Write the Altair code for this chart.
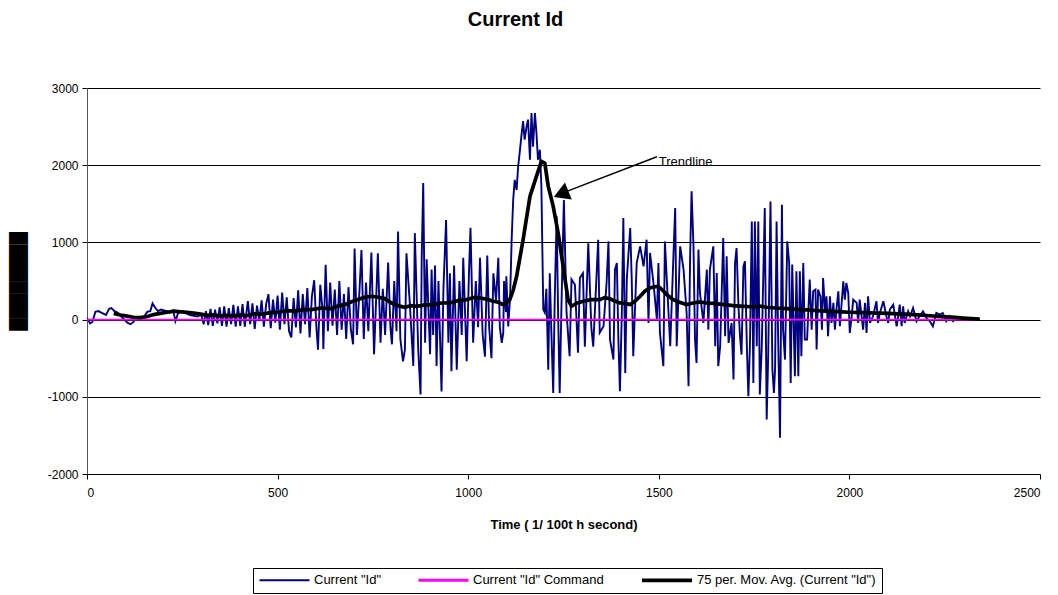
import altair as alt
import pandas as pd

# ---- data (time in 1/100 s, current Id) ----
id_seg_a = [(0,20),(8,-50),(14,-30),(22,100),(30,110),(40,85),(50,60),(58,140),(64,150),(72,110),
            (80,90),(90,40),(98,0),(106,-40),(114,-60),(122,-30),(130,30),(140,20),(150,40),(158,100),
            (166,110),(172,210),(178,160),(186,110),(194,130),(202,120),(210,110),(218,90),(226,120),(232,-20),
            (240,100),(250,110),(260,80),(270,60),(280,50),(290,40),(300,60),(306,-60),(312,110),(318,-70),
            (324,140),(330,-80),(336,130),(342,-50),(348,160),(354,-80),(360,170),(366,-90),(372,150),(378,-60),
            (384,190),(390,-90),(396,170),(402,-80),(408,200),(414,-90)]
id_seg_b = [(422,240),(428,-60),(434,210),(440,-120),(446,180),(452,-20),(458,250),(464,-90),(470,200),(476,330),
            (482,-110),(488,260),(494,-40),(500,310),(506,-130),(512,350),(518,-60),(524,290),(530,-150),(536,-230),
            (542,280),(548,-100),(554,380),(560,-180),(566,330),(572,-60),(578,410),(584,-230),(590,300),(596,510),
            (602,-120),(606,-390),(612,450),(618,120),(620,-380),(626,710),(632,-150),(638,480),(644,-80),(650,390),
            (656,-200),(662,500),(668,-130),(674,330),(680,-250),(686,420),(692,-120),(698,-320),(702,920),(708,-200),
            (714,300),(720,900),(726,-250),(732,480),(738,-150),(746,870),(753,-450),(758,200),(763,860),(770,-300),
            (776,400),(782,-200),(790,740),(796,-100),(800,-320),(806,500),(812,-150),(816,1140),(822,-250),(829,-540)]
id_seg_c = [(834,-390),(838,860),(847,200),(856,-600),(860,1120),(869,-400),(875,-970),(878,800),(882,1770),(887,-300),
            (891,780),(900,-450),(904,650),(908,-200),(913,700),(917,-600),(922,500),(930,-930),(935,400),(942,1290),
            (948,-300),(952,600),(956,-670),(963,700),(970,-650),(977,500),(983,-200),(987,800),(996,-540),(1002,600),
            (1006,1190),(1013,-300),(1020,500),(1026,-100),(1031,800),(1038,-200),(1044,-480),(1050,830),(1055,-100),(1061,-500),
            (1066,600),(1073,250),(1079,800),(1083,-100),(1088,-300),(1092,-170),(1094,500),(1099,100)]
id_seg_d = [(1100,560),(1105,-90),(1110,300),(1114,1035),(1118,1550),(1122,1810),(1127,1680),(1131,1980),(1135,2160),(1140,2400),
            (1144,2570),(1148,2330),(1153,2500),(1157,2590),(1162,2070),(1166,2675),(1170,2240),(1175,2675),(1179,2420),(1183,2070),
            (1188,2200),(1192,1730),(1197,130),(1201,90),(1205,400),(1210,-650),(1214,600),(1218,-130),(1223,-950),(1227,260),
            (1232,1340),(1236,40),(1240,-950),(1245,260),(1251,1550),(1258,90),(1266,-475),(1271,520),(1280,450),(1288,-430),
            (1293,540),(1301,600),(1306,-350),(1315,990),(1323,-100),(1328,-350),(1341,1035),(1345,-170)]
id_seg_e = [(1355,-86),(1363,474),(1368,1013),(1372,-259),(1381,-518),(1385,647),(1390,733),(1394,-259),(1398,-927),(1403,86),
            (1407,1315),(1412,-690),(1416,518),(1425,1186),(1429,518),(1433,-475),(1442,733),(1451,949),(1460,690),(1468,1035),
            (1473,-43),(1477,863),(1486,474),(1495,0),(1499,733),(1503,-173),(1512,-604),(1516,1013),(1521,518),(1530,-345),
            (1538,776),(1543,1445),(1547,-345),(1556,949),(1565,647),(1573,86),(1578,-863),(1582,776),(1586,1661),(1591,949),
            (1595,-259),(1599,-561),(1604,906),(1608,345),(1617,-43),(1626,647),(1630,-130),(1634,647),(1643,949),(1648,-345),
            (1652,604),(1656,-604),(1661,-345),(1669,1056),(1674,-216),(1678,820),(1683,-302),(1691,-43),(1696,-776),(1700,733),
            (1704,927),(1709,173),(1713,-216),(1717,-453),(1722,690),(1726,755),(1731,-345),(1735,-992),(1739,-345),(1744,1272),
            (1748,-820),(1752,1272),(1757,-345)]
id_seg_f = [(1761,1272),(1765,-970),(1770,-367),(1778,1445),(1783,-1294),(1787,-475),(1793,1531),(1798,-647),(1802,-949),(1805,-647),
            (1809,1272),(1813,-216),(1818,-1531),(1823,1488),(1826,-130),(1831,-518),(1837,1013),(1842,733),(1846,-820),(1850,712),
            (1857,-733),(1861,625),(1866,-733),(1870,625),(1874,-475),(1879,733),(1883,-259),(1889,-259),(1894,302),(1896,518),
            (1901,-130),(1905,367),(1911,388),(1914,-388),(1918,388),(1924,300),(1928,-130),(1931,539),(1936,130),(1940,302),
            (1944,-216),(1949,302),(1953,-43),(1958,216),(1962,-130),(1966,130),(1971,367),(1975,-86),(1984,496),(1988,259),
            (1992,475),(1997,345),(2001,-173),(2006,43),(2010,259),(2019,216),(2023,-43),(2027,259),(2036,-130),(2041,216),
            (2045,-173),(2049,302),(2054,-43),(2062,43),(2071,237),(2075,-43),(2080,86),(2089,237),(2097,43),(2102,-43),
            (2106,130),(2115,194),(2124,-86),(2128,43),(2132,194),(2137,-86),(2141,173),(2145,-43),(2154,108),(2159,43)]
id_seg_g = [(2167,151),(2176,-22),(2184,43),(2193,108),(2202,22),(2211,-22),(2219,-86),(2228,86),(2237,65),(2245,86),
            (2254,-22),(2263,43),(2272,-22),(2280,22),(2298,22),(2315,20),(2329,0),(2342,0)]

command_t = [0, 2340]
command_v = [0, 0]

mavg_t = [70, 88, 105, 122, 140, 158, 175, 192, 210, 228, 245, 262, 280, 298, 315, 332, 350, 368, 385, 402,
          420, 440, 460, 480, 501, 523, 545, 567, 589, 615, 641, 658, 676, 694, 711, 728, 746, 764, 781, 794,
          807, 820, 834, 850, 865, 886, 908, 930, 952, 974, 996, 1014, 1031, 1048, 1066, 1079, 1092, 1100, 1109, 1118,
          1127, 1144, 1162, 1179, 1192, 1201, 1210, 1223, 1236, 1249, 1262, 1271, 1286, 1302, 1323, 1345, 1358, 1372, 1385, 1398,
          1411, 1425, 1438, 1451, 1464, 1477, 1488, 1499, 1510, 1521, 1534, 1547, 1560, 1573, 1590, 1608, 1625, 1643, 1660, 1678,
          1695, 1713, 1730, 1748, 1765, 1783, 1805, 1826, 1848, 1870, 1892, 1915, 1938, 1960, 1980, 2000, 2020, 2040, 2060, 2080,
          2102, 2125, 2146, 2167, 2188, 2210, 2232, 2254, 2276, 2298, 2320, 2342]
mavg_v = [80, 60, 45, 30, 25, 40, 65, 80, 95, 110, 100, 95, 85, 70, 55, 60, 45, 55, 45, 60,
          50, 75, 70, 90, 95, 115, 110, 130, 129, 150, 142, 175, 194, 230, 259, 290, 302, 290, 272, 230,
          194, 175, 160, 180, 172, 190, 194, 215, 216, 245, 259, 285, 280, 265, 237, 225, 194, 215, 259, 380,
          561, 1035, 1596, 1855, 2049, 2027, 1726, 1467, 1122, 690, 259, 173, 215, 237, 260, 259, 285, 270, 240, 216,
          210, 194, 240, 302, 370, 410, 425, 431, 380, 324, 270, 237, 215, 194, 215, 230, 215, 210, 200, 190,
          180, 175, 170, 165, 175, 160, 150, 145, 140, 130, 125, 115, 110, 105, 100, 95, 92, 90, 86, 85,
          80, 75, 72, 65, 58, 50, 42, 35, 28, 20, 12, 5]

series_names = ['Current "Id"', 'Current "Id" Command', '75 per. Mov. Avg. (Current "Id")']
series_colors = ["#000080", "#FF00FF", "#000000"]

y_ticks = [-2000, -1500, -1000, -500, 0, 500, 1000, 1500, 2000, 2500, 3000]
x_ticks = [0, 500, 1000, 1500, 2000, 2500]

# ---- tables ----
id_pairs = id_seg_a + id_seg_b + id_seg_c + id_seg_d + id_seg_e + id_seg_f + id_seg_g
df_id = pd.DataFrame(id_pairs, columns=["t", "v"])
df_id["series"] = series_names[0]
df_cmd = pd.DataFrame({"t": command_t, "v": command_v, "series": series_names[1]})
df_avg = pd.DataFrame({"t": mavg_t, "v": mavg_v, "series": series_names[2]})

FONT = "Liberation Sans"

x_enc = alt.X("t:Q", scale=alt.Scale(domain=[0, 2500], nice=False),
              axis=alt.Axis(values=x_ticks, title="Time ( 1/ 100t h second)", grid=False,
                            labelExpr="'' + datum.value",
                            labelFont=FONT, labelFontSize=12, labelColor="black",
                            titleFont=FONT, titleFontSize=13, titleFontWeight="bold", titleColor="black",
                            titlePadding=20, tickColor="black", domainColor="black", tickSize=5,
                            labelPadding=8))
y_enc = alt.Y("v:Q", scale=alt.Scale(domain=[-2000, 3000], nice=False),
              axis=alt.Axis(values=y_ticks, title="████████", grid=True, gridColor="black",
                            gridOpacity=1, gridWidth=1, labelExpr="'' + datum.value",
                            labelFont=FONT, labelFontSize=12, labelColor="black",
                            titleFont="DejaVu Sans", titleFontSize=16, titleFontWeight="normal",
                            titleColor="black", titleX=-61, titleBaseline="bottom",
                            tickColor="black", domainColor="#555555", tickSize=5, labelPadding=4))

legend = alt.Legend(title=None, orient="none", legendX=166, legendY=480, direction="horizontal",
                    strokeColor="black", padding=5, labelFont=FONT, labelFontSize=13, labelColor="black",
                    labelLimit=400, symbolType="M-1,0H9", symbolSize=100, columnPadding=30, labelOffset=43,
                    symbolFillColor="transparent")
color_enc = alt.Color("series:O", sort=series_names,
                      scale=alt.Scale(domain=series_names, range=series_colors), legend=legend)
width_enc = alt.StrokeWidth("series:O", sort=series_names,
                            scale=alt.Scale(type="point", domain=series_names, range=[1.9, 3.7], padding=0),
                            legend=legend)

def line_layer(df, width=None):
    return alt.Chart(df).mark_line(clip=True).encode(
        x=x_enc, y=y_enc, color=color_enc,
        strokeWidth=width_enc if width is None else alt.value(width), order="t:Q")

# annotation arrow
arrow_df = pd.DataFrame({"t": [1495], "v": [2109], "t2": [1255], "v2": [1655]})
arrow_line = alt.Chart(arrow_df).mark_rule(color="black", strokeWidth=1.5).encode(
    x="t:Q", y="v:Q", x2="t2:Q", y2="v2:Q")
head_df = pd.DataFrame({"t": [1250], "v": [1640]})
arrow_head = alt.Chart(head_df).mark_point(shape="triangle", filled=True, color="black",
                                           size=330, angle=248, opacity=1).encode(x="t:Q", y="v:Q")
label_df = pd.DataFrame({"t": [1500], "v": [2045], "txt": ["Trendline"]})
label = alt.Chart(label_df).mark_text(align="left", baseline="middle", font=FONT, fontSize=13,
                                      color="black").encode(x="t:Q", y="v:Q", text="txt:N")

chart = alt.layer(line_layer(df_id), line_layer(df_cmd, 1.8), line_layer(df_avg),
                  arrow_line, arrow_head, label).properties(
    width=953, height=386,
    title=alt.TitleParams("Current Id", font=FONT, fontSize=20, fontWeight="bold", color="black",
                          anchor="middle", dx=-48, offset=52),
    autosize=alt.AutoSizeParams(type="none"),
    padding={"left": 87, "top": 88, "right": 18, "bottom": 121},
).configure_view(stroke=None)

chart.save("out.html", embed_options={"renderer": "svg", "actions": False})
